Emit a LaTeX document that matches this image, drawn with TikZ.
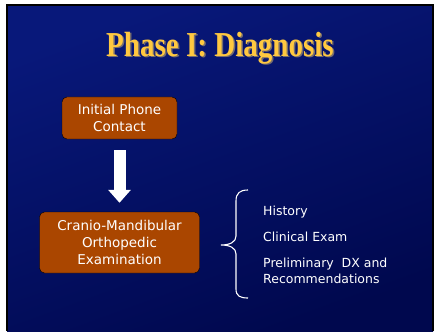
\documentclass[tikz,border=0pt]{standalone}
\usepackage{fontspec}
\setmainfont{Liberation Serif}
\setsansfont{DejaVu Sans}
\usetikzlibrary{arrows.meta}
\definecolor{slidetop}{RGB}{8,24,122}
\definecolor{slidebot}{RGB}{0,8,78}
\definecolor{boxbrown}{RGB}{170,70,0}
\definecolor{titlegold}{RGB}{255,200,64}
\definecolor{titleshade}{RGB}{120,110,110}
\tikzstyle{stage} = [rectangle, rounded corners=5pt, draw=black, thin,
fill=boxbrown, text=white, align=center, inner sep=0pt,
font=\sffamily\fontsize{13.5}{17}\selectfont]
\tikzstyle{item} = [anchor=base west, text=white, align=left, inner sep=0pt,
font=\sffamily\fontsize{12.5}{16}\selectfont]
\tikzstyle{heading} = [font=\bfseries\fontsize{35}{35}\selectfont]
\tikzstyle{blockarrow} = [white, line width=12pt, -{Triangle[width=22pt,length=13pt]}]

\begin{document}
\begin{tikzpicture}[x=1pt,y=-1pt,node distance=124.5pt]
\useasboundingbox (0,0) rectangle (435,331);
\fill[white] (0,0) rectangle (435,331);
\shade[top color=slidetop, bottom color=slidebot, shading angle=20] (7,5) rectangle (433,331);
\draw[black, line width=1.5pt] (7,331) -- (7,5) -- (433,5) -- (433,331);

% title
\node (shadow) [heading, text=titleshade] at (221.5,49.5) {\scalebox{0.83}[1]{Phase I: Diagnosis}};
\node (title) [heading, text=titlegold] at (220,48) {\scalebox{0.83}[1]{Phase I: Diagnosis}};

\node (init) [stage, minimum width=115pt, minimum height=42pt] at (119.5,118) {Initial Phone\\Contact};
\node (exam) [stage, minimum width=160pt, minimum height=61pt, below of=init] {Cranio-Mandibular\\Orthopedic\\Examination};

\draw [blockarrow, shorten <=11pt, shorten >=9pt] (init) -- (exam);

% brace
\draw [white, line width=1.1pt] (248,190) .. controls (240,190) and (236,193) .. (236,201)
  -- (236,236) .. controls (236,242) and (230,245) .. (221,245)
  .. controls (230,245) and (236,248) .. (236,254)
  -- (236,289) .. controls (236,296) and (240,298) .. (248,298);

\node (hist) [item] at (263,215) {History};
\node (clin) [item] at (263,241) {Clinical Exam};
\node (prelim) [item] at (263,283) {Preliminary\ \ DX and\\Recommendations};

\end{tikzpicture}
\end{document}
